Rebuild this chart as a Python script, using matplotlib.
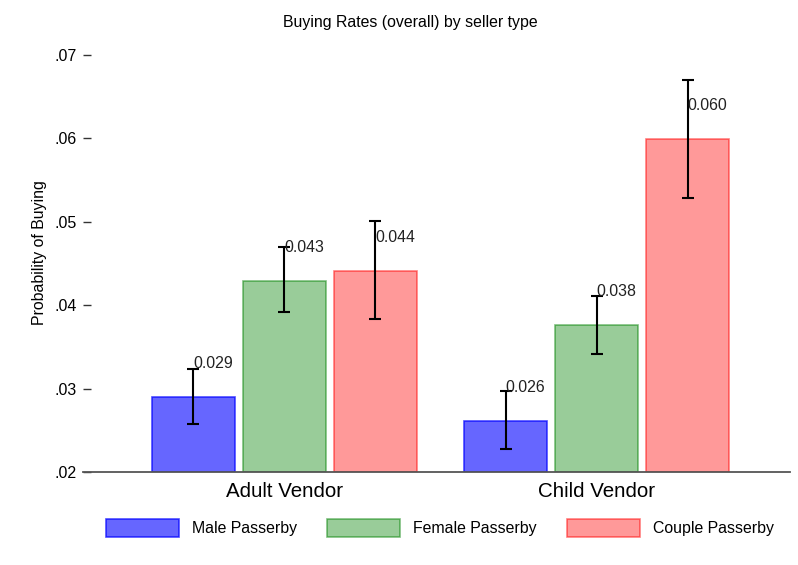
import matplotlib
matplotlib.use("Agg")
import matplotlib.pyplot as plt
import numpy as np

plt.rcParams['font.family'] = ['Liberation Sans', 'DejaVu Sans']

# Data
vendors = ["Adult Vendor", "Child Vendor"]
passerby = ["Male Passerby", "Female Passerby", "Couple Passerby"]
rates = {
    "Male Passerby":   [0.0290, 0.0261],
    "Female Passerby": [0.0429, 0.0376],
    "Couple Passerby": [0.0441, 0.0599],
}
ci_low = {
    "Male Passerby":   [0.0258, 0.0228],
    "Female Passerby": [0.0392, 0.0342],
    "Couple Passerby": [0.0383, 0.0529],
}
ci_high = {
    "Male Passerby":   [0.0324, 0.0297],
    "Female Passerby": [0.0470, 0.0411],
    "Couple Passerby": [0.0501, 0.0670],
}
yticks = [0.02, 0.03, 0.04, 0.05, 0.06, 0.07]
ytick_labels = [".02", ".03", ".04", ".05", ".06", ".07"]

face = {"Male Passerby": (0, 0, 1, 0.6),
        "Female Passerby": (0, 0.5, 0, 0.4),
        "Couple Passerby": (1, 0, 0, 0.4)}
edge = {"Male Passerby": (0, 0, 1, 0.7),
        "Female Passerby": (0, 0.5, 0, 0.5),
        "Couple Passerby": (1, 0, 0, 0.5)}

fig = plt.figure(figsize=(7.98, 5.65), dpi=100)
ax = fig.add_axes([0.104, 0.1646, 0.886, 0.7381])

group_centers = np.array([1.0, 4.43])
width = 0.91
for i, p in enumerate(passerby):
    x = group_centers + (i - 1)
    vals = np.array(rates[p])
    lo = np.array(ci_low[p])
    hi = np.array(ci_high[p])
    ax.bar(x, vals - 0.02, bottom=0.02, width=width, color=face[p],
           edgecolor=edge[p], linewidth=1.2, label=p, zorder=2)
    ax.errorbar(x, vals, yerr=[vals - lo, hi - vals], fmt="none",
                ecolor="black", elinewidth=1.5, capsize=4.5, capthick=1.5,
                zorder=3)
    for xi, v in zip(x, vals):
        ax.text(xi, v + 0.004, f"{v:.3f}", ha="left", va="center",
                fontsize=11.4, color="#222222", zorder=4)

ax.set_xlim(-1.214, 6.555)
ax.set_ylim(0.02, 0.07)
ax.set_yticks(yticks)
ax.set_yticklabels(ytick_labels, fontsize=11.5)
ax.tick_params(axis="y", direction="in", length=5.5, width=1,
               color="#333333", pad=4.5)
ax.set_xticks(group_centers)
ax.set_xticklabels(vendors, fontsize=14.8)
ax.tick_params(axis="x", length=0, pad=7.5)
for s in ["left", "right", "top"]:
    ax.spines[s].set_visible(False)
ax.spines["bottom"].set_color("#555555")
ax.spines["bottom"].set_linewidth(1.3)
ax.set_ylabel("Probability of Buying", fontsize=11.4)
ax.yaxis.set_label_coords(-0.051, 0.526)

fig.text(410 / 798, 1 - 22 / 565, "Buying Rates (overall) by seller type",
         ha="center", va="center", fontsize=11.4)

leg = fig.legend(loc="center", bbox_to_anchor=(440 / 798, 1 - 528 / 565),
                 ncol=3, frameon=False, fontsize=11.4, handlelength=4.6,
                 handleheight=1.4, handletextpad=0.82, columnspacing=1.9)

fig.savefig("out.png", dpi=100, facecolor="white")
